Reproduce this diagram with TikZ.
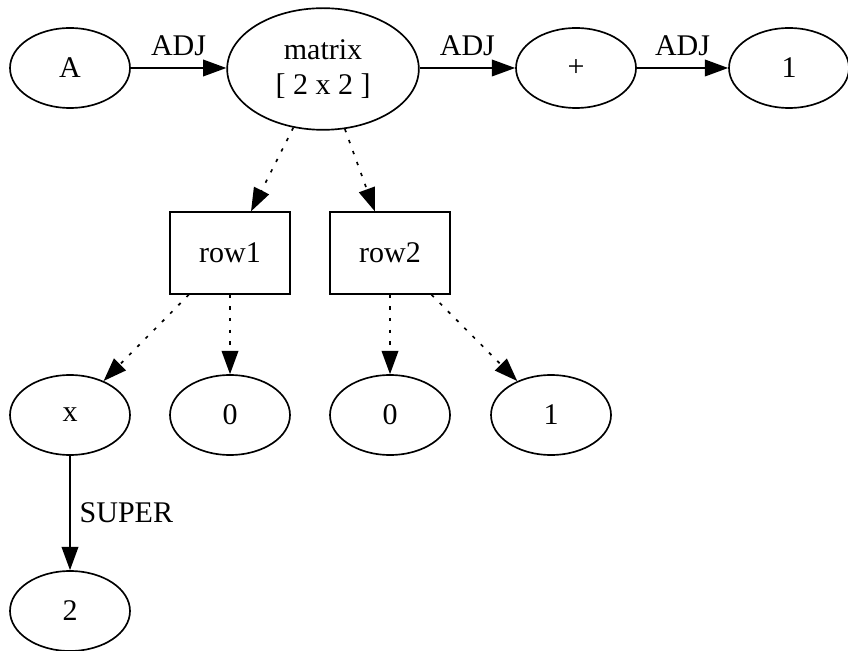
\documentclass[tikz,border=0pt]{standalone}
\usepackage{fontspec}
\setmainfont{Liberation Serif}
\usetikzlibrary{arrows.meta, shapes.geometric}

\begin{document}
\begin{tikzpicture}[x=0.6pt, y=-0.6pt,
  oval/.style={ellipse, draw=black, line width=1pt,
               minimum width=72pt, minimum height=48pt, inner sep=0pt},
  box/.style={rectangle, draw=black, line width=1pt,
              minimum width=72pt, minimum height=49pt},
  arr/.style={-{Triangle[length=14pt, width=10pt]}, line width=1pt},
  dotarr/.style={arr, dash pattern=on 2pt off 5pt},
  lbl/.style={midway, above=5pt, inner sep=2pt},
  font=\fontsize{18}{21}\selectfont
]
  \useasboundingbox (0,0) rectangle (848,651);
  \node[oval] (a)     at (70,  68)  {A};
  \node[oval, minimum width=115pt, minimum height=73pt, align=center]
                      (mat)   at (323, 69)  {matrix\\ {[ 2 x 2 ]}};
  \node[oval] (plus)  at (576, 68)  {+};
  \node[oval] (onea)  at (789, 68)  {1};
  \node[box]  (rowa)  at (230, 253) {row1};
  \node[box]  (rowb)  at (390, 253) {row2};
  \node[oval] (x)     at (70,  415) {x};
  \node[oval] (zeroa) at (230, 415) {0};
  \node[oval] (zerob) at (390, 415) {0};
  \node[oval] (oneb)  at (551, 415) {1};
  \node[oval] (two)   at (70,  611) {2};
  \draw[arr] (a) -- (a -| mat.west) node[lbl] {ADJ};
  \draw[arr] (mat.east |- plus) -- (plus) node[lbl] {ADJ};
  \draw[arr] (plus) -- (onea) node[lbl] {ADJ};
  \draw[dotarr] (mat) -- (rowa);
  \draw[dotarr] (mat) -- (rowb);
  \draw[dotarr] (rowa) -- (x);
  \draw[dotarr] (rowa) -- (zeroa);
  \draw[dotarr] (rowb) -- (zerob);
  \draw[dotarr] (rowb) -- (oneb);
  \draw[arr] (x) -- (two) node[midway, right=2pt] {SUPER};
\end{tikzpicture}
\end{document}
